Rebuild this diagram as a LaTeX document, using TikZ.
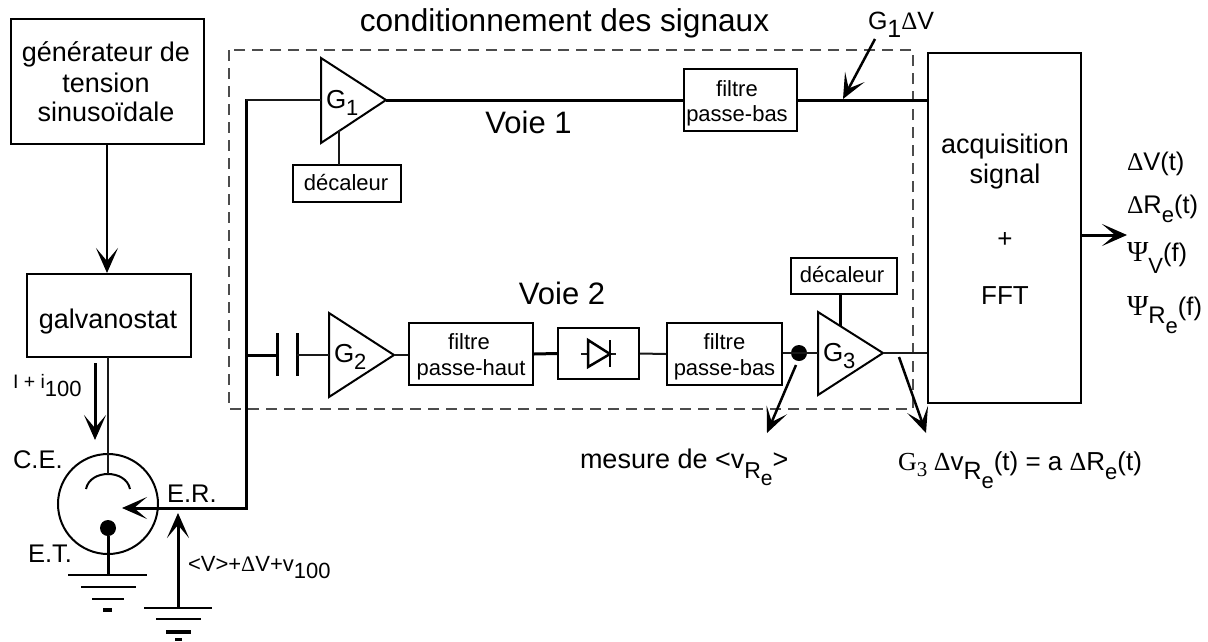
\documentclass[tikz,border=0pt]{standalone}
\usepackage{fontspec}
\setmainfont{Liberation Sans}
\newfontfamily\serifg{Liberation Serif}
\usetikzlibrary{arrows.meta,calc}
\newcommand{\fs}[1]{\fontsize{#1}{#1}\selectfont}
\newcommand{\sy}[1]{{\serifg #1}}
\newcommand{\lo}[2]{\raisebox{-#1pt}{#2}}
\tikzset{
  wire/.style={line width=2pt,black!90},
  thick wire/.style={line width=3pt},
  boxnode/.style={draw,line width=2pt,inner sep=0pt,align=center,fill=none},
  amp/.style={draw,line width=2pt,line join=miter},
  lab/.style={anchor=base west,inner sep=0pt,outer sep=0pt},
  clab/.style={anchor=base,inner sep=0pt,outer sep=0pt},
  arr/.style={line width=3pt,-{Stealth[length=25pt,width=22pt,inset=13pt]}},
  gnd/.style={line width=2.5pt},
  framebox/.style={draw,black!70,line width=1.3pt,dash pattern=on 11pt off 7pt},
}
\begin{document}
\begin{tikzpicture}[x=1pt,y=-1pt]
\useasboundingbox (0,0) rectangle (1208,641);
% dashed frame
\draw[framebox] (229,50) rectangle (913,409);
% boxes
\node[boxnode,minimum width=193pt,minimum height=125pt] (gen) at (107,81.5) {};
\node[boxnode,minimum width=164pt,minimum height=83pt] (galv) at (109,315.5) {};
\node[boxnode,minimum width=153pt,minimum height=350pt] (acq) at (1004.5,228) {};
\node[boxnode,minimum width=113pt,minimum height=62pt] (fpb1) at (740.5,100) {};
\node[boxnode,minimum width=108pt,minimum height=37pt] (dec1) at (347,183.5) {};
\node[boxnode,minimum width=124pt,minimum height=62pt] (fph) at (471,354) {};
\node[boxnode,minimum width=81pt,minimum height=51pt] (diode) at (598.5,353.5) {};
\node[boxnode,minimum width=115pt,minimum height=62pt] (fpb2) at (724.5,354) {};
\node[boxnode,minimum width=106pt,minimum height=36pt] (dec2) at (844,276) {};
% amplifiers
\coordinate (g1in) at (321,100); \coordinate (g1out) at (386,100);
\coordinate (g2in) at (329,355); \coordinate (g2out) at (394,355);
\coordinate (g3in) at (818,353); \coordinate (g3out) at (883,353);
\draw[amp] (321,58) -- (g1out) -- (321,143) -- cycle;
\draw[amp] (329,313) -- (g2out) -- (329,397) -- cycle;
\draw[amp] (818,312) -- (g3out) -- (818,395) -- cycle;
% cell
\node[draw,circle,line width=2pt,minimum size=100pt,inner sep=0pt] (cell) at (108,504) {};
\node[fill=black,circle,minimum size=16pt,inner sep=0pt] (et) at (108,528) {};
\coordinate (ce) at (108,474);
\draw[line width=2pt] (86,489) .. controls (88,479) and (98,474) .. (ce) .. controls (118,474) and (128,479) .. (130,489);
\coordinate (nodeR) at (246,508);
\coordinate (ertip) at (122,508);
% wires
\draw[arr,line width=2.5pt] (107,144) -- (107,273);
\draw[wire] (108,357) -- (ce);
\coordinate (ia) at (95,363); \coordinate (ib) at (95,440);
\draw[arr] (ia) -- (ib);
\draw[thick wire,line cap=rect] (246,100) -- (nodeR);
\draw[arr] (nodeR) -- (ertip);
\draw[wire] (246,100) -- (g1in);
\draw[thick wire] (g1out) -- (fpb1.west);
\draw[thick wire] (fpb1.east) -- (acq.west |- fpb1.east);
\draw[wire] (339,130) -- (339,165);
% voie 2
\coordinate (c1) at (277,355); \coordinate (c2) at (297,355);
\draw[thick wire] (246,355) -- (c1);
\draw[line width=3pt] (277,333) -- (277,376);
\draw[line width=3pt] (297,333) -- (297,376);
\draw[wire] (c2) -- (g2in);
\draw[wire] (g2out) -- (fph.west |- g2out);
\draw[thick wire] (fph.east) -- (diode.west);
\draw[wire] (diode.east) -- (fpb2.west);
\node[fill=black,circle,minimum size=16pt,inner sep=0pt] (mes) at (799,353) {};
\draw[wire] (fpb2.east |- mes) -- (g3in);
\draw[wire] (g3out) -- (acq.west |- g3out);
\draw[thick wire] (840,294) -- (840,326);
% diode
\draw[wire] (581,354) -- (616,354);
\draw[line width=2.5pt,fill=white] (588,340) -- (610,354) -- (588,367) -- cycle;
\draw[line width=2.5pt] (610,340) -- (610,367);
% etalon ground
\draw[line width=3pt] (et) -- (108,575);
\draw[gnd] (68,575) -- (147,575);
\draw[gnd] (81,587) -- (136,587);
\draw[gnd] (92,599) -- (124,599);
\draw[line width=3.5pt] (103,610) -- (112,610);
% second ground
\coordinate (gndb) at (178,608); \coordinate (gndt) at (178,513);
\draw[arr] (gndb) -- (gndt);
\draw[gnd] (144,608) -- (212,608);
\draw[gnd] (156,619) -- (201,619);
\draw[line width=3.5pt] (166,632) -- (191,632);
\draw[gnd] (175,639.5) -- (182,639.5);
% annotation arrows
\coordinate (a1s) at (875,39); \coordinate (a1e) at (843,99);
\draw[arr,line width=2.5pt] (a1s) -- (a1e);
\coordinate (a2s) at (796,365); \coordinate (a2e) at (767,433);
\draw[arr,line width=2.5pt] (a2s) -- (a2e);
\coordinate (a3s) at (899,357); \coordinate (a3e) at (926,433);
\draw[arr,line width=2.5pt] (a3s) -- (a3e);
\draw[arr] (1081,235) -- (1127,235);
% texts
\node[clab] at (106,61) {\fs{27}générateur de};
\node[clab] at (106,92) {\fs{27}tension};
\node[clab] at (106,121) {\fs{27}sinusoïdale};
\node[clab] at (108,328) {\fs{27}galvanostat};
\node[clab] at (1005,153) {\fs{27}acquisition};
\node[clab] at (1005,183) {\fs{27}signal};
\node[clab] at (1005,247) {\fs{26}+};
\node[clab] at (1005,304) {\fs{26}FFT};
\node[clab] at (564.5,31) {\fs{31.6}conditionnement des signaux};
\node[clab] at (528.5,133) {\fs{31}Voie 1};
\node[clab] at (562,304) {\fs{31}Voie 2};
\node[clab] at (737,96) {\fs{22}filtre};
\node[clab] at (737,121) {\fs{22}passe-bas};
\node[clab] at (346,190) {\fs{22}décaleur};
\node[clab] at (469,349) {\fs{22}filtre};
\node[clab] at (471,375) {\fs{22}passe-haut};
\node[clab] at (724.5,349) {\fs{22}filtre};
\node[clab] at (724.5,375) {\fs{22}passe-bas};
\node[clab] at (842,282) {\fs{22}décaleur};
\node[lab] at (326,108) {\fs{26}G\lo{7}{\fs{22}1}};
\node[lab] at (334,362) {\fs{26}G\lo{7}{\fs{22}2}};
\node[lab] at (823,361) {\fs{26}G\lo{7}{\fs{22}3}};
\node[lab] at (868,29) {\fs{25}G\lo{8}{1}\sy{Δ}V};
\node[lab] at (13,388) {\fs{19.5}I + i\lo{8}{\fs{22}100}};
\node[lab] at (13,468) {\fs{25.5}C.E.};
\node[lab] at (167,502) {\fs{25.5}E.R.};
\node[lab] at (28,562) {\fs{25.5}E.T.};
\node[lab] at (188,571) {\fs{22}<V>+\sy{Δ}V+v\lo{7}{\fs{22}100}};
\node[lab] at (1127,170) {\fs{25.5}\sy{Δ}V(t)};
\node[lab] at (1127,213) {\fs{25.5}\sy{Δ}R\lo{9}{\fs{22}e}(t)};
\node[lab] at (1127,261) {\fs{25.5}\sy{\fs{29}Ψ}\lo{12}{\fs{22}V}(f)};
\node[lab] at (1127,315) {\fs{25.5}\sy{\fs{29}Ψ}\lo{8}{\fs{24}R\lo{10}{\fs{22}e}}(f)};
\node[lab] at (580,468) {\fs{27}mesure de <v\lo{10}{\fs{23}R\lo{7}{\fs{21}e}}>};
\node[lab] at (898,470) {\fs{26}\sy{G\lo{6}{\fs{21}3} Δ}v\lo{9}{\fs{25}R\lo{9}{\fs{22}e}}(t) = a \sy{Δ}R\lo{9}{\fs{22}e}(t)};
\end{tikzpicture}
\end{document}
